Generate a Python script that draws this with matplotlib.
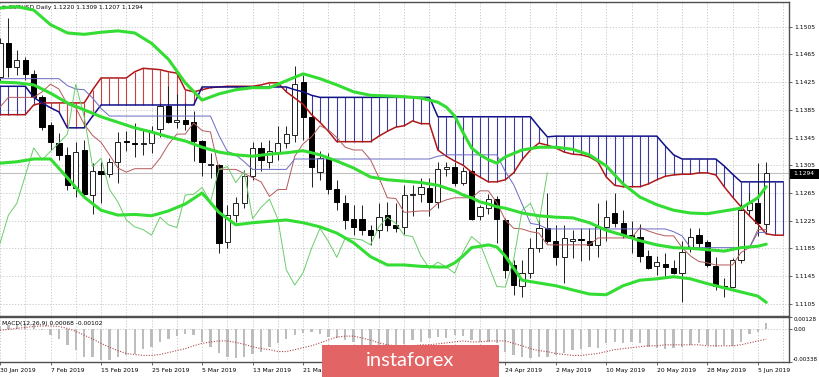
import numpy as np
import matplotlib
matplotlib.use("Agg")
import matplotlib.pyplot as plt
from matplotlib.patches import Rectangle

plt.rcParams['font.family'] = ['DejaVu Sans']

# ---------------- data (EURUSD daily, 30 Jan 2019 .. 6 Jun 2019) ----------------
opens = [1.1432,1.1481,1.1447,1.1457,1.1437,1.1404,1.1363,1.1337,1.1320,1.1272,
         1.1327,1.1262,1.1296,1.1292,1.1310,1.1340,1.1337,1.1336,1.1337,1.1358,
         1.1390,1.1368,1.1371,1.1367,1.1340,1.1306,1.1305,1.1194,1.1233,1.1250,
         1.1290,1.1330,1.1310,1.1322,1.1337,1.1349,1.1425,1.1375,1.1295,1.1315,
         1.1270,1.1251,1.1227,1.1228,1.1211,1.1211,1.1233,1.1218,1.1216,1.1262,
         1.1263,1.1272,1.1252,1.1299,1.1303,1.1280,1.1296,1.1232,1.1243,1.1256,
         1.1226,1.1161,1.1131,1.1149,1.1185,1.1215,1.1196,1.1172,1.1196,1.1199,
         1.1196,1.1190,1.1216,1.1236,1.1221,1.1204,1.1202,1.1174,1.1159,1.1163,
         1.1157,1.1149,1.1185,1.1204,1.1194,1.1159,1.1131,1.1129,1.1168,1.1240,
         1.1250,1.1220]
highs = [1.1489,1.1517,1.1471,1.1461,1.1442,1.1406,1.1368,1.1352,1.1331,1.1339,
         1.1341,1.1308,1.1310,1.1316,1.1353,1.1355,1.1366,1.1356,1.1362,1.1395,
         1.1420,1.1408,1.1395,1.1383,1.1342,1.1322,1.1307,1.1248,1.1259,1.1298,
         1.1339,1.1339,1.1342,1.1361,1.1362,1.1449,1.1435,1.1383,1.1326,1.1323,
         1.1284,1.1262,1.1248,1.1248,1.1219,1.1250,1.1252,1.1250,1.1276,1.1276,
         1.1287,1.1287,1.1310,1.1310,1.1310,1.1303,1.1299,1.1247,1.1264,1.1261,
         1.1229,1.1168,1.1168,1.1200,1.1226,1.1265,1.1219,1.1219,1.1211,1.1215,
         1.1215,1.1250,1.1255,1.1265,1.1240,1.1224,1.1220,1.1183,1.1174,1.1178,
         1.1168,1.1195,1.1215,1.1215,1.1197,1.1173,1.1142,1.1171,1.1250,1.1265,
         1.1308,1.1309]
lows = [1.1425,1.1432,1.1435,1.1428,1.1399,1.1356,1.1327,1.1312,1.1269,1.1259,
        1.1257,1.1234,1.1250,1.1288,1.1280,1.1325,1.1317,1.1320,1.1323,1.1346,
        1.1366,1.1359,1.1356,1.1311,1.1290,1.1286,1.1178,1.1186,1.1223,1.1243,
        1.1283,1.1297,1.1301,1.1313,1.1330,1.1339,1.1342,1.1274,1.1283,1.1263,
        1.1240,1.1213,1.1204,1.1204,1.1190,1.1200,1.1210,1.1208,1.1206,1.1231,
        1.1252,1.1231,1.1243,1.1290,1.1275,1.1276,1.1226,1.1226,1.1235,1.1192,
        1.1142,1.1118,1.1115,1.1142,1.1180,1.1192,1.1161,1.1135,1.1171,1.1166,
        1.1168,1.1173,1.1195,1.1216,1.1200,1.1178,1.1165,1.1155,1.1147,1.1142,
        1.1148,1.1107,1.1180,1.1185,1.1158,1.1125,1.1115,1.1128,1.1164,1.1235,
        1.1203,1.1207]
closes = [1.1481,1.1447,1.1457,1.1437,1.1404,1.1360,1.1338,1.1320,1.1276,1.1324,
          1.1264,1.1296,1.1293,1.1310,1.1338,1.1339,1.1335,1.1337,1.1353,1.1390,
          1.1368,1.1370,1.1365,1.1340,1.1309,1.1307,1.1192,1.1233,1.1250,1.1290,
          1.1330,1.1313,1.1325,1.1337,1.1350,1.1422,1.1375,1.1303,1.1315,1.1270,
          1.1252,1.1226,1.1216,1.1212,1.1204,1.1230,1.1219,1.1215,1.1262,1.1263,
          1.1273,1.1252,1.1299,1.1303,1.1280,1.1296,1.1228,1.1244,1.1256,1.1227,
          1.1154,1.1132,1.1150,1.1185,1.1214,1.1195,1.1172,1.1200,1.1199,1.1197,
          1.1190,1.1216,1.1230,1.1221,1.1204,1.1202,1.1174,1.1156,1.1165,1.1158,
          1.1149,1.1180,1.1202,1.1192,1.1161,1.1130,1.1129,1.1168,1.1240,1.1250,
          1.1221,1.1294]

date_labels = ["30 Jan 2019", "7 Feb 2019", "15 Feb 2019", "25 Feb 2019", "5 Mar 2019",
               "13 Mar 2019", "21 Mar 2019", "29 Mar 2019", "8 Apr 2019", "16 Apr 2019",
               "24 Apr 2019", "2 May 2019", "10 May 2019", "20 May 2019", "28 May 2019",
               "5 Jun 2019"]
label_step = 6

# Bollinger bands (20, 2), read at these bar indices
bb_idx = [0,2,4,6,8,10,12,14,16,18,20,22,24,26,28,30,32,34,36,38,40,42,44,46,48,50,52,
          53,54,55,56,57,58,59,60,
          62,64,66,68,70,72,74,76,78,80,82,84,86,88,90,91]
bb_upper = [1.1532,1.1534,1.1529,1.1508,1.1496,1.1494,1.1497,1.1499,1.1496,1.1481,
            1.1458,1.1424,1.1399,1.1408,1.1414,1.1417,1.1417,1.1427,1.1437,1.1430,
            1.1421,1.1411,1.1406,1.1405,1.1404,1.1402,1.1396,
            1.1389,1.1376,1.1352,1.1330,1.1320,1.1313,1.1308,1.1317,
            1.1327,1.1331,1.1331,1.1328,1.1320,1.1304,1.1278,1.1259,1.1248,1.1240,
            1.1236,1.1235,1.1239,1.1243,1.1258,1.1274]
bb_middle = [1.1425,1.1424,1.1421,1.1409,1.1395,1.1385,1.1375,1.1367,1.1359,1.1353,
             1.1346,1.1340,1.1331,1.1324,1.1320,1.1318,1.1321,1.1323,1.1326,1.1320,
             1.1311,1.1301,1.1288,1.1284,1.1282,1.1280,1.1276,
             1.1272,1.1268,1.1262,1.1258,1.1252,1.1249,1.1245,1.1243,
             1.1236,1.1232,1.1230,1.1229,1.1222,1.1211,1.1204,1.1196,1.1190,1.1186,
             1.1185,1.1183,1.1181,1.1186,1.1188,1.1191]
bb_lower = [1.1308,1.1310,1.1314,1.1314,1.1287,1.1259,1.1240,1.1233,1.1234,1.1232,
            1.1239,1.1249,1.1265,1.1237,1.1219,1.1222,1.1224,1.1226,1.1222,1.1216,
            1.1207,1.1193,1.1173,1.1161,1.1161,1.1159,1.1158,
            1.1158,1.1164,1.1174,1.1186,1.1188,1.1190,1.1187,1.1174,
            1.1139,1.1135,1.1131,1.1125,1.1119,1.1118,1.1131,1.1139,1.1141,1.1144,
            1.1141,1.1134,1.1128,1.1122,1.1116,1.1107]

# Ichimoku
tenkan = [1.1389,1.1403,1.1403,1.1403,1.1403,1.1411,1.1422,1.1415,1.1393,1.1388,
          1.1364,1.1348,1.1338,1.1320,1.1301,1.1295,1.1300,1.1300,1.1300,1.1315,
          1.1335,1.1350,1.1350,1.1366,1.1355,1.1353,1.1299,1.1299,1.1299,1.1293,
          1.1287,1.1281,1.1260,1.1270,1.1270,1.1318,1.1336,1.1346,1.1362,1.1356,
          1.1345,1.1331,1.1327,1.1327,1.1313,1.1287,1.1258,1.1257,1.1237,1.1238,
          1.1239,1.1239,1.1250,1.1255,1.1258,1.1258,1.1258,1.1268,1.1268,1.1251,
          1.1226,1.1214,1.1213,1.1209,1.1207,1.1190,1.1190,1.1190,1.1190,1.1190,
          1.1190,1.1200,1.1200,1.1200,1.1200,1.1200,1.1215,1.1210,1.1206,1.1203,
          1.1203,1.1186,1.1174,1.1166,1.1164,1.1161,1.1161,1.1161,1.1179,1.1186,
          1.1212,1.1212]
kijun = [1.1430,1.1430,1.1430,1.1430,1.1430,1.1430,1.1430,1.1430,1.1420,1.1415,
         1.1414,1.1402,1.1387,1.1376,1.1376,1.1376,1.1376,1.1376,1.1376,1.1376,
         1.1376,1.1376,1.1376,1.1376,1.1376,1.1376,1.1348,1.1325,1.1320,1.1310,
         1.1299,1.1299,1.1299,1.1299,1.1299,1.1314,1.1314,1.1314,1.1314,1.1314,
         1.1314,1.1314,1.1314,1.1314,1.1314,1.1314,1.1314,1.1314,1.1314,1.1314,
         1.1314,1.1314,1.1318,1.1320,1.1320,1.1320,1.1320,1.1320,1.1320,1.1320,
         1.1296,1.1277,1.1249,1.1221,1.1219,1.1213,1.1213,1.1213,1.1213,1.1213,
         1.1213,1.1213,1.1213,1.1213,1.1213,1.1213,1.1213,1.1213,1.1213,1.1213,
         1.1209,1.1203,1.1186,1.1186,1.1186,1.1186,1.1186,1.1186,1.1186,1.1186,
         1.1208,1.1208]
span_a = [1.1378,1.1378,1.1378,1.1378,1.1392,1.1395,1.1395,1.1395,1.1395,1.1395,
          1.1395,1.1414,1.1431,1.1431,1.1431,1.1431,1.1440,1.1445,1.1444,1.1443,
          1.1440,1.1438,1.1414,1.1411,1.1414,1.1417,1.1418,1.1419,1.1419,1.1419,
          1.1419,1.1421,1.1424,1.1424,1.1411,1.1402,1.1393,1.1378,1.1367,1.1354,
          1.1339,1.1339,1.1339,1.1339,1.1339,1.1347,1.1354,1.1360,1.1362,1.1369,
          1.1365,1.1365,1.1327,1.1318,1.1311,1.1305,1.1295,1.1288,1.1281,1.1281,
          1.1284,1.1294,1.1313,1.1327,1.1337,1.1334,1.1330,1.1324,1.1321,1.1320,
          1.1317,1.1310,1.1288,1.1276,1.1274,1.1274,1.1274,1.1278,1.1284,1.1289,
          1.1291,1.1292,1.1292,1.1294,1.1294,1.1291,1.1274,1.1259,1.1245,1.1232,
          1.1220,1.1206,1.1204,1.1204]
span_b = [1.1419,1.1419,1.1419,1.1419,1.1403,1.1395,1.1388,1.1382,1.1359,1.1359,
          1.1359,1.1376,1.1392,1.1392,1.1392,1.1392,1.1392,1.1392,1.1392,1.1392,
          1.1392,1.1392,1.1392,1.1392,1.1418,1.1418,1.1418,1.1418,1.1418,1.1418,
          1.1418,1.1418,1.1418,1.1418,1.1418,1.1414,1.1411,1.1406,1.1403,1.1403,
          1.1403,1.1403,1.1403,1.1403,1.1403,1.1403,1.1403,1.1403,1.1403,1.1403,
          1.1403,1.1403,1.1375,1.1375,1.1375,1.1375,1.1375,1.1375,1.1375,1.1375,
          1.1375,1.1375,1.1375,1.1375,1.1360,1.1346,1.1347,1.1347,1.1347,1.1347,
          1.1347,1.1347,1.1347,1.1347,1.1347,1.1347,1.1347,1.1347,1.1347,1.1333,
          1.1320,1.1314,1.1314,1.1314,1.1314,1.1314,1.1304,1.1292,1.1281,1.1281,
          1.1281,1.1281,1.1281,1.1281]
chikou_shift = 26

# MACD(12,26,9): main line (histogram) and signal line
macd_main = [0.0003,0.0005,0.0006,0.0006,0.0004,-0.0001,-0.0006,-0.00104,-0.00162,-0.00214,
             -0.00283,-0.0029,-0.00317,-0.00317,-0.00283,-0.00266,-0.0025,-0.00207,-0.00179,-0.00128,
             -0.00104,-0.00069,-0.00048,-0.00059,-0.00128,-0.00179,-0.00248,-0.00283,-0.0030,-0.00283,
             -0.0025,-0.00231,-0.00179,-0.00145,-0.00104,-0.0006,-0.00035,-0.00024,-0.00048,-0.00076,
             -0.00093,-0.0011,-0.0013,-0.0016,-0.0019,-0.0020,-0.0020,-0.0019,-0.0015,-0.0011,
             -0.00128,-0.00093,-0.00076,-0.00093,-0.00059,-0.00069,-0.0011,-0.00128,-0.00128,-0.00145,
             -0.00231,-0.00266,-0.00283,-0.0030,-0.00283,-0.00283,-0.00266,-0.00248,-0.00214,-0.00207,
             -0.00179,-0.00197,-0.00145,-0.00128,-0.00145,-0.00128,-0.00145,-0.00179,-0.00197,-0.00207,
             -0.00197,-0.00179,-0.00162,-0.00145,-0.00162,-0.00179,-0.00162,-0.00172,-0.00128,-0.00048,
             -0.00024,0.00068]
macd_signal = [-0.0001,0.0000,0.0001,0.0002,0.0003,0.00035,0.00035,0.0003,0.0001,-0.0002,
               -0.0006,-0.0010,-0.00145,-0.00186,-0.0022,-0.0025,-0.0026,-0.0027,-0.0027,-0.0026,
               -0.0024,-0.0022,-0.0020,-0.0017,-0.00145,-0.0013,-0.0012,-0.0012,-0.00135,-0.00155,
               -0.0018,-0.0020,-0.0021,-0.0023,-0.0023,-0.0021,-0.0019,-0.0017,-0.0014,-0.0011,
               -0.0008,-0.0007,-0.0007,-0.0009,-0.0011,-0.0014,-0.0016,-0.0017,-0.0017,-0.0017,
               -0.0016,-0.0016,-0.0015,-0.0014,-0.0013,-0.0012,-0.0013,-0.0013,-0.0012,-0.0012,
               -0.0012,-0.00145,-0.0017,-0.0020,-0.0022,-0.0023,-0.0025,-0.0026,-0.0027,-0.0027,
               -0.0026,-0.0025,-0.0023,-0.0021,-0.0020,-0.0019,-0.0018,-0.0017,-0.0017,-0.0016,
               -0.0016,-0.0016,-0.0016,-0.0016,-0.0017,-0.0017,-0.0017,-0.0017,-0.0016,-0.0014,
               -0.0012,-0.00102]

price_ticks = [1.1105,1.1145,1.1185,1.1225,1.1265,1.1305,1.1345,1.1385,1.1425,1.1465,1.1505]
macd_ticks = [0.00128, 0.0, -0.00338]
macd_tick_labels = ["0.00128", "0.00", "-0.00338"]

# ---------------- figure ----------------
W, H = 820, 377
fig = plt.figure(figsize=(W / 100, H / 100), dpi=100)
fig.patch.set_facecolor('white')

def fx(px):
    return px / W

def fy(py):
    return 1 - py / H

ax = fig.add_axes([0, fy(316), fx(789), (316 - 2) / H])
axm = fig.add_axes([0, fy(362), fx(789), (362 - 317) / H])
XMAX = 93.7
for a in (ax, axm):
    a.set_xlim(0, XMAX)
    a.set_facecolor('white')
    a.spines['left'].set_visible(False)
    for s in ('top', 'right', 'bottom'):
        a.spines[s].set_color('#505050')
        a.spines[s].set_linewidth(1.0)
ax.set_ylim(1.10873, 1.15407)
axm.set_ylim(-0.00338, 0.00128)

GRID = dict(color='#c4c4c4', linestyle=(0, (1.5, 2.0)), linewidth=0.6)
FS = 4.3

# main grid / ticks
ax.set_axisbelow(True)
ax.set_xticks(np.arange(0, XMAX, 3))
ax.tick_params(axis='x', length=0, labelbottom=False)
ax.yaxis.tick_right()
ax.set_yticks(price_ticks)
ax.set_yticklabels([f"{p:.4f}" for p in price_ticks])
ax.tick_params(axis='y', length=2.5, width=0.6, color='#505050', labelsize=FS, pad=1.4)
ax.grid(True, **GRID)

o = np.array(opens); h = np.array(highs); l = np.array(lows); c = np.array(closes)
n = len(c)
idx = np.arange(n)

# current price line
ax.axhline(c[-1], color='#c0c0c0', lw=0.8, zorder=1)

# title
ax.text(9 / 789, (316 - 7) / 314,
        f"EURUSD Daily {o[-1]:.4f} {h[-1]:.4f} {l[-1]:.4f} {c[-1]:.4f}",
        transform=ax.transAxes, fontsize=FS, va='center', ha='left', zorder=1.5)
ax.text(2 / 789, (316 - 7) / 314, "\u25bc", transform=ax.transAxes, fontsize=3.5,
        va='center', ha='left', zorder=1.5)

# Ichimoku cloud hatch lines
sa = np.array(span_a); sb = np.array(span_b); sidx = np.arange(len(sa))
bull = sa >= sb
ax.vlines(sidx[bull], sb[bull], sa[bull], color='#c84040', lw=0.8, zorder=2)
ax.vlines(sidx[~bull], sa[~bull], sb[~bull], color='#3a3a9c', lw=0.8, zorder=2)

# candles
up = c >= o
ax.vlines(idx, l, h, color='#202020', lw=0.7, zorder=3)
bottom = np.minimum(o, c); height = np.abs(c - o)
ax.bar(idx[up], height[up], bottom=bottom[up], width=0.62, color='white',
       edgecolor='#202020', linewidth=0.7, zorder=3.2)
ax.bar(idx[~up], height[~up], bottom=bottom[~up], width=0.62, color='black',
       edgecolor='black', linewidth=0.7, zorder=3.2)

# Ichimoku lines
ax.plot(sidx, sa, color='#b01818', lw=1.1, zorder=4)
ax.plot(sidx, sb, color='#10108a', lw=1.1, zorder=4)
ax.plot(idx, tenkan, color='#b45a5a', lw=0.7, zorder=4.5)
ax.plot(idx, kijun, color='#6a6ac4', lw=0.7, zorder=4.5)
ax.plot(idx[chikou_shift:] - chikou_shift, c[chikou_shift:], color='#6acd6a', lw=0.7, zorder=4.5)

# Bollinger bands
for band in (bb_upper, bb_middle, bb_lower):
    ax.plot(bb_idx, band, color='#33dd33', lw=2.2, zorder=5,
            solid_capstyle='round', solid_joinstyle='round')

# ---------------- MACD panel ----------------
axm.set_axisbelow(True)
axm.set_xticks(np.arange(0, XMAX, 3), minor=True)
axm.set_xticks(idx[::label_step])
axm.set_xticklabels(date_labels, ha='left', fontsize=FS)
axm.tick_params(axis='x', which='major', length=2.5, width=0.6, color='#505050', pad=1.5)
axm.tick_params(axis='x', which='minor', length=0)
axm.grid(True, which='both', axis='x', **GRID)
axm.axhline(0, zorder=1, **GRID)
axm.yaxis.tick_right()
axm.set_yticks(macd_ticks)
axm.set_yticklabels(macd_tick_labels)
axm.tick_params(axis='y', length=2.0, width=0.6, color='#505050', labelsize=4.1, pad=1.0)
lbls = axm.get_yticklabels()
lbls[0].set_va('top'); lbls[2].set_va('bottom')

axm.bar(idx, macd_main, width=0.28, color='#bdbdbd', zorder=2)
axm.plot(idx, macd_signal, color='#b04848', lw=0.8, ls=(0, (1, 1.4)), zorder=3)
axm.text(2 / 789, (362 - 323) / 45,
         f"MACD(12,26,9) {macd_main[-1]:.5f} {macd_signal[-1]:.5f}",
         transform=axm.transAxes, fontsize=FS, va='center', ha='left', zorder=4)

# current price marker on the axis
fig.patches.append(Rectangle((fx(790), fy(178.5)), fx(30), 10 / H, transform=fig.transFigure,
                             facecolor='black', edgecolor='none', zorder=10))
fig.text(fx(793), fy(173.5), f"{c[-1]:.4f}", color='white', fontsize=FS,
         va='center', ha='left', zorder=11)

# watermark logo
fig.patches.append(Rectangle((fx(322), fy(377)), fx(177), 32 / H, transform=fig.transFigure,
                             facecolor='#e26464', edgecolor='none', zorder=10))
fig.text(fx(410.5), fy(360), "instaforex", color='white', fontsize=14.5,
         family=['Lato', 'DejaVu Sans'], weight='normal', ha='center', va='center', zorder=11)

fig.savefig('out.png', dpi=100)
